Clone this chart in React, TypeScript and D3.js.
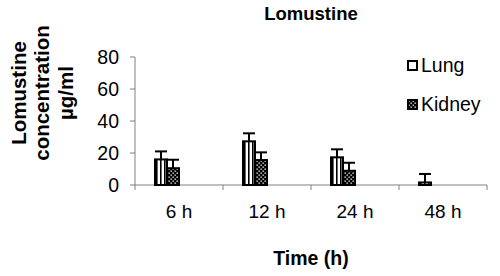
import React from "react";
import * as d3 from "d3";

const categories = ["6 h", "12 h", "24 h", "48 h"];
const seriesNames = ["Lung", "Kidney"];
const lungValues = [16, 27.3, 17.3, 1.6];
const lungErrors = [5, 5, 5, 5.3];
const kidneyValues = [10.5, 15.6, 8.9, 0];
const kidneyErrors = [5.3, 4.8, 5, 0];
const yTicks = [0, 20, 40, 60, 80];
const chartTitle = "Lomustine";
const xTitle = "Time (h)";
const yTitleLines = ["Lomustine", "concentration", "µg/ml"];

const W = 500;
const H = 276;
const FONT = "'Liberation Sans', Arial, sans-serif";

export default function App() {
  const left = 135, right = 487, top = 57, bottom = 185;
  const x0 = d3.scaleBand<string>().domain(categories).range([left, right]).padding(0);
  const bw = x0.bandwidth() * (12 / 88);
  const x1 = d3
    .scaleBand<string>()
    .domain(seriesNames)
    .range([x0.bandwidth() / 2 - 2 * bw, x0.bandwidth() / 2]);
  const y = d3.scaleLinear().domain([0, 80]).range([bottom, top]);

  const data = [
    { name: "Lung", values: lungValues, errors: lungErrors, fill: "url(#lungPat)" },
    { name: "Kidney", values: kidneyValues, errors: kidneyErrors, fill: "url(#kidPat)" },
  ];
  const axisColor = "#808080";
  const boundaries = [...categories.map((c) => x0(c)!), right];

  return (
    <svg
      width={W}
      height={H}
      style={{ position: "absolute", left: 0, top: 0, background: "#fff" }}
      fontFamily={FONT}
    >
      <defs>
        <pattern id="lungPat" width={4} height={4} patternUnits="userSpaceOnUse">
          <rect width={4} height={4} fill="#fff" />
          <rect x={0} width={1.6} height={4} fill="#000" />
        </pattern>
        <pattern id="kidPat" width={4} height={4} patternUnits="userSpaceOnUse">
          <rect width={4} height={4} fill="#000" />
          <rect x={0.5} y={0.5} width={1.3} height={1.3} fill="#fff" />
          <rect x={2.5} y={2.5} width={1.3} height={1.3} fill="#fff" />
        </pattern>
      </defs>

      <text x={311} y={20} textAnchor="middle" fontWeight="bold" fontSize={18.5}>
        {chartTitle}
      </text>

      {/* y axis */}
      <line x1={left} x2={left} y1={top} y2={bottom} stroke={axisColor} />
      {yTicks.map((t) => (
        <g key={t}>
          <line x1={left - 5} x2={left} y1={y(t)} y2={y(t)} stroke={axisColor} />
          <text x={119} y={y(t)} dy="0.36em" textAnchor="end" fontSize={19.5}>
            {t}
          </text>
        </g>
      ))}

      {/* x axis */}
      <line x1={left} x2={right} y1={bottom} y2={bottom} stroke={axisColor} />
      {boundaries.map((b, i) => (
        <line key={i} x1={b} x2={b} y1={bottom} y2={bottom + 5} stroke={axisColor} />
      ))}
      {categories.map((c) => (
        <text key={c} x={x0(c)! + x0.bandwidth() / 2} y={218} textAnchor="middle" fontSize={19}>
          {c}
        </text>
      ))}

      {/* bars */}
      {data.map((s) =>
        categories.map((c, i) => {
          const v = s.values[i];
          const e = s.errors[i];
          const bx = x0(c)! + x1(s.name)!;
          const cx = bx + bw / 2;
          return (
            <g key={s.name + c}>
              {v > 0 && (
                <rect
                  x={bx}
                  y={y(v)}
                  width={bw}
                  height={bottom - y(v)}
                  fill={s.fill}
                  stroke="#000"
                  strokeWidth={2}
                />
              )}
              {e > 0 && (
                <>
                  <line x1={cx} x2={cx} y1={y(v)} y2={y(v + e)} stroke="#000" strokeWidth={2} />
                  <line
                    x1={cx - bw / 2}
                    x2={cx + bw / 2}
                    y1={y(v + e)}
                    y2={y(v + e)}
                    stroke="#000"
                    strokeWidth={2}
                  />
                </>
              )}
            </g>
          );
        })
      )}

      {/* legend */}
      {data.map((s, i) => (
        <g key={s.name} transform={`translate(408, ${61 + i * 39})`}>
          <rect x={0} y={0} width={9} height={9} fill={i === 0 ? "#fff" : s.fill} stroke="#000" strokeWidth={2} />
          <text x={13} y={10.5} fontSize={19.5}>
            {s.name}
          </text>
        </g>
      ))}

      <text x={311} y={265} textAnchor="middle" fontWeight="bold" fontSize={19.5}>
        {xTitle}
      </text>

      <g transform="translate(0, 93)">
        {yTitleLines.map((l, i) => (
          <text
            key={l}
            transform={`translate(${25.5 + i * 23.5}, 0) rotate(-90)`}
            textAnchor="middle"
            fontWeight="bold"
            fontSize={20.5}
          >
            {l}
          </text>
        ))}
      </g>
    </svg>
  );
}
